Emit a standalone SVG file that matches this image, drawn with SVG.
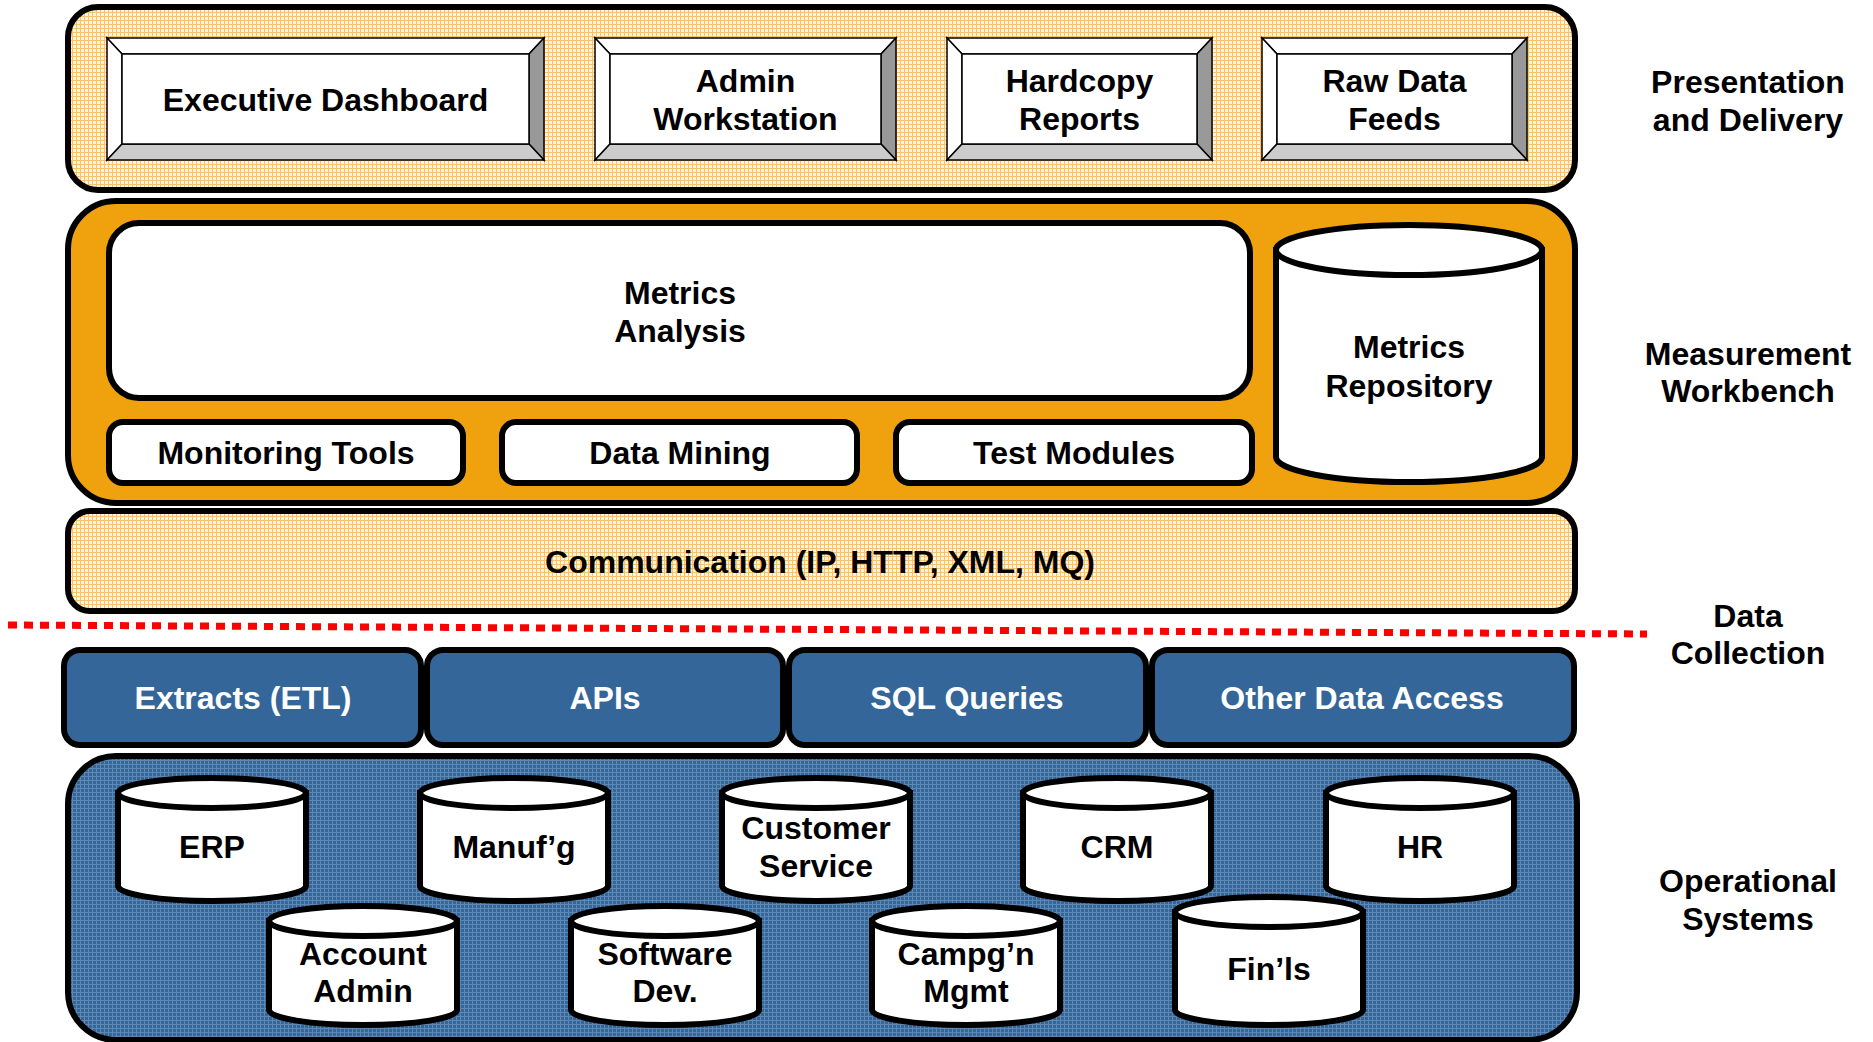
<svg xmlns="http://www.w3.org/2000/svg" width="1873" height="1042" viewBox="0 0 1873 1042">
  <defs>
    <!-- fine woven textures for the tiers -->
    <pattern id="peach" width="4" height="4" patternUnits="userSpaceOnUse">
      <rect width="4" height="4" fill="#FEF3DC"/>
      <rect width="1" height="4" fill="#F5C36E"/>
      <rect width="4" height="1" fill="#F5C36E"/>
    </pattern>
    <pattern id="bluegrid" width="4" height="4" patternUnits="userSpaceOnUse">
      <rect width="4" height="4" fill="#336699"/>
      <rect width="1" height="4" fill="#5F87B4"/>
      <rect width="4" height="1" fill="#5F87B4"/>
    </pattern>
    <style>
      .band { stroke: #000; stroke-width: 6; }
      .box { fill: #fff; stroke: #000; stroke-width: 6; }
      .blue { fill: #346699; stroke: #000; stroke-width: 6; }
      .cyl { fill: #fff; stroke: #000; stroke-width: 6; }
      .bev { stroke: #000; stroke-width: 1.5; stroke-linejoin: miter; }
      .lbl { font-family: "Liberation Sans", Arial, Helvetica, sans-serif; font-weight: bold; font-size: 32px; text-anchor: middle; fill: #000; }
      .wlbl { fill: #fff; }
    </style>
  </defs>

  <rect width="1873" height="1042" fill="#fff"/>

  <!-- Tier: presentation and delivery -->
  <g id="tier-presentation">
    <rect class="band" x="68" y="7" width="1507" height="183" rx="30" fill="url(#peach)"/>
  </g>

  <g id="executive-dashboard" transform="translate(107,38)">
    <polygon class="bev" points="0,0 437,0 422,16 15,16" fill="#fff"/>
    <polygon class="bev" points="0,0 15,16 15,106 0,122" fill="#fff"/>
    <polygon class="bev" points="437,0 437,122 422,106 422,16" fill="#999"/>
    <polygon class="bev" points="0,122 437,122 422,106 15,106" fill="#ccc"/>
    <rect class="bev" x="15" y="16" width="407" height="90" fill="#fff"/>
    <text class="lbl" x="218.5" y="73">Executive Dashboard</text>
  </g>

  <g id="admin-workstation" transform="translate(595,38)">
    <polygon class="bev" points="0,0 301,0 286,16 15,16" fill="#fff"/>
    <polygon class="bev" points="0,0 15,16 15,106 0,122" fill="#fff"/>
    <polygon class="bev" points="301,0 301,122 286,106 286,16" fill="#999"/>
    <polygon class="bev" points="0,122 301,122 286,106 15,106" fill="#ccc"/>
    <rect class="bev" x="15" y="16" width="271" height="90" fill="#fff"/>
    <text class="lbl" x="150.5" y="54">Admin</text>
    <text class="lbl" x="150.5" y="92">Workstation</text>
  </g>

  <g id="hardcopy-reports" transform="translate(947,38)">
    <polygon class="bev" points="0,0 265,0 250,16 15,16" fill="#fff"/>
    <polygon class="bev" points="0,0 15,16 15,106 0,122" fill="#fff"/>
    <polygon class="bev" points="265,0 265,122 250,106 250,16" fill="#999"/>
    <polygon class="bev" points="0,122 265,122 250,106 15,106" fill="#ccc"/>
    <rect class="bev" x="15" y="16" width="235" height="90" fill="#fff"/>
    <text class="lbl" x="132.5" y="54">Hardcopy</text>
    <text class="lbl" x="132.5" y="92">Reports</text>
  </g>

  <g id="raw-data-feeds" transform="translate(1262,38)">
    <polygon class="bev" points="0,0 265,0 250,16 15,16" fill="#fff"/>
    <polygon class="bev" points="0,0 15,16 15,106 0,122" fill="#fff"/>
    <polygon class="bev" points="265,0 265,122 250,106 250,16" fill="#999"/>
    <polygon class="bev" points="0,122 265,122 250,106 15,106" fill="#ccc"/>
    <rect class="bev" x="15" y="16" width="235" height="90" fill="#fff"/>
    <text class="lbl" x="132.5" y="54">Raw Data</text>
    <text class="lbl" x="132.5" y="92">Feeds</text>
  </g>

  <!-- Tier: measurement workbench -->
  <g id="tier-workbench">
    <rect class="band" x="68" y="201" width="1507" height="302" rx="48" fill="#F0A20E"/>
  </g>

  <g id="metrics-analysis">
    <rect class="box" x="109" y="223" width="1141" height="175" rx="30"/>
    <text class="lbl" x="680" y="304">Metrics</text>
    <text class="lbl" x="680" y="342">Analysis</text>
  </g>

  <g id="monitoring-tools">
    <rect class="box" x="109" y="422" width="354" height="61" rx="14"/>
    <text class="lbl" x="286" y="464">Monitoring Tools</text>
  </g>

  <g id="data-mining">
    <rect class="box" x="502" y="422" width="355" height="61" rx="14"/>
    <text class="lbl" x="680" y="464">Data Mining</text>
  </g>

  <g id="test-modules">
    <rect class="box" x="896" y="422" width="356" height="61" rx="14"/>
    <text class="lbl" x="1074" y="464">Test Modules</text>
  </g>

  <g id="metrics-repository">
    <path class="cyl" d="M1276,250 V457 A133,25 0 0 0 1542,457 V250 Z"/>
    <ellipse class="cyl" cx="1409" cy="250" rx="133" ry="25"/>
    <text class="lbl" x="1409" y="358">Metrics</text>
    <text class="lbl" x="1409" y="397">Repository</text>
  </g>

  <!-- Tier: communication -->
  <g id="communication">
    <rect class="band" x="68" y="511" width="1507" height="100" rx="22" fill="url(#peach)"/>
    <text class="lbl" x="820" y="573">Communication (IP, HTTP, XML, MQ)</text>
  </g>

  <!-- Boundary between workbench and data collection -->
  <g id="connectors">
    <line x1="8" y1="625" x2="1647" y2="634" stroke="#FF0000" stroke-width="7" stroke-dasharray="9 7"/>
  </g>

  <!-- Tier: data collection -->
  <g id="extracts-etl">
    <rect class="blue" x="64" y="650" width="357" height="95" rx="16"/>
    <text class="lbl wlbl" x="243" y="709">Extracts (ETL)</text>
  </g>
  <g id="apis">
    <rect class="blue" x="427" y="650" width="356" height="95" rx="16"/>
    <text class="lbl wlbl" x="605" y="709">APIs</text>
  </g>
  <g id="sql-queries">
    <rect class="blue" x="789" y="650" width="357" height="95" rx="16"/>
    <text class="lbl wlbl" x="967" y="709">SQL Queries</text>
  </g>
  <g id="other-data-access">
    <rect class="blue" x="1152" y="650" width="422" height="95" rx="16"/>
    <text class="lbl wlbl" x="1362" y="709">Other Data Access</text>
  </g>

  <!-- Tier: operational systems -->
  <g id="tier-operational">
    <rect class="band" x="68" y="756" width="1509" height="284" rx="48" fill="url(#bluegrid)"/>
  </g>

  <g id="erp">
    <path class="cyl" d="M118,793 V886 A94,15 0 0 0 306,886 V793 Z"/>
    <ellipse class="cyl" cx="212" cy="793" rx="94" ry="15"/>
    <text class="lbl" x="212" y="858">ERP</text>
  </g>
  <g id="manufg">
    <path class="cyl" d="M420,793 V886 A94,15 0 0 0 608,886 V793 Z"/>
    <ellipse class="cyl" cx="514" cy="793" rx="94" ry="15"/>
    <text class="lbl" x="514" y="858">Manuf’g</text>
  </g>
  <g id="customer-service">
    <path class="cyl" d="M722,793 V886 A94,15 0 0 0 910,886 V793 Z"/>
    <ellipse class="cyl" cx="816" cy="793" rx="94" ry="15"/>
    <text class="lbl" x="816" y="839">Customer</text>
    <text class="lbl" x="816" y="877">Service</text>
  </g>
  <g id="crm">
    <path class="cyl" d="M1023,793 V886 A94,15 0 0 0 1211,886 V793 Z"/>
    <ellipse class="cyl" cx="1117" cy="793" rx="94" ry="15"/>
    <text class="lbl" x="1117" y="858">CRM</text>
  </g>
  <g id="hr">
    <path class="cyl" d="M1326,793 V886 A94,15 0 0 0 1514,886 V793 Z"/>
    <ellipse class="cyl" cx="1420" cy="793" rx="94" ry="15"/>
    <text class="lbl" x="1420" y="858">HR</text>
  </g>

  <g id="account-admin">
    <path class="cyl" d="M269,921 V1010 A94,15 0 0 0 457,1010 V921 Z"/>
    <ellipse class="cyl" cx="363" cy="921" rx="94" ry="15"/>
    <text class="lbl" x="363" y="965">Account</text>
    <text class="lbl" x="363" y="1002">Admin</text>
  </g>
  <g id="software-dev">
    <path class="cyl" d="M571,921 V1010 A94,15 0 0 0 759,1010 V921 Z"/>
    <ellipse class="cyl" cx="665" cy="921" rx="94" ry="15"/>
    <text class="lbl" x="665" y="965">Software</text>
    <text class="lbl" x="665" y="1002">Dev.</text>
  </g>
  <g id="campaign-mgmt">
    <path class="cyl" d="M872,921 V1010 A94,15 0 0 0 1060,1010 V921 Z"/>
    <ellipse class="cyl" cx="966" cy="921" rx="94" ry="15"/>
    <text class="lbl" x="966" y="965">Campg’n</text>
    <text class="lbl" x="966" y="1002">Mgmt</text>
  </g>
  <g id="financials">
    <path class="cyl" d="M1175,912 V1010 A94,15 0 0 0 1363,1010 V912 Z"/>
    <ellipse class="cyl" cx="1269" cy="912" rx="94" ry="15"/>
    <text class="lbl" x="1269" y="980">Fin’ls</text>
  </g>

  <!-- Tier captions -->
  <g id="captions">
    <text class="lbl" x="1748" y="93">Presentation</text>
    <text class="lbl" x="1748" y="131">and Delivery</text>
    <text class="lbl" x="1748" y="365">Measurement</text>
    <text class="lbl" x="1748" y="402">Workbench</text>
    <text class="lbl" x="1748" y="627">Data</text>
    <text class="lbl" x="1748" y="664">Collection</text>
    <text class="lbl" x="1748" y="892">Operational</text>
    <text class="lbl" x="1748" y="930">Systems</text>
  </g>
</svg>
